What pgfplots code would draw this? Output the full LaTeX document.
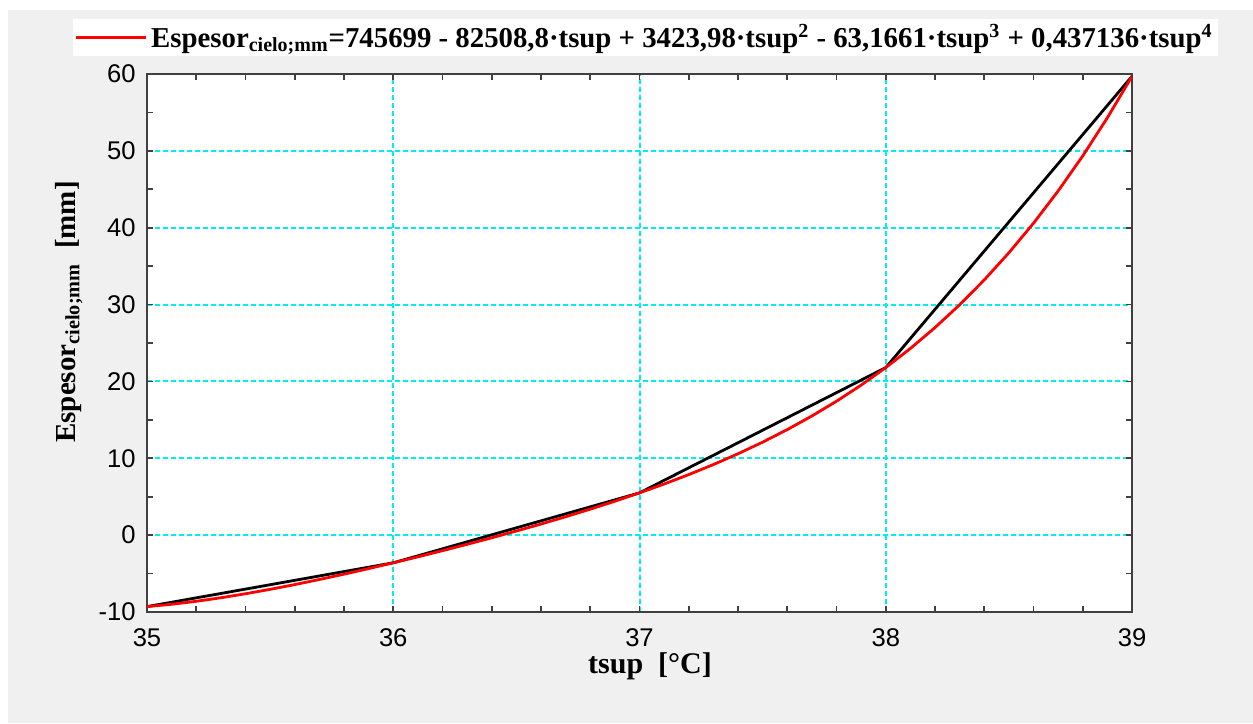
\documentclass[border=0pt]{standalone}
\usepackage{fontspec}
\setmainfont{Liberation Serif}
\setsansfont{Liberation Sans}
\usepackage{pgfplots}
\pgfplotsset{compat=1.18}
\definecolor{bggray}{HTML}{F0F0F0}
\definecolor{axgray}{HTML}{404040}
\definecolor{gridcyan}{HTML}{00EEEE}
\begin{document}
\begin{tikzpicture}
\useasboundingbox (-73.5pt,-55.5pt) rectangle (553pt,306pt);
\fill[bggray] (-69.5pt,-55.5pt) rectangle (553pt,301pt);
\begin{axis}[at={(0,0)},anchor=south west,scale only axis,width=492.5pt,height=269pt,
  xmin=35,xmax=39,ymin=-10,ymax=60,
  xtick={35,36,37,38,39},xticklabels={35,36,37,38,39},minor x tick num=4,
  ytick={-10,0,10,20,30,40,50,60},yticklabels={-10,0,10,20,30,40,50,60},minor y tick num=1,
  tick align=inside,major tick length=3pt,minor tick length=3pt,
  xmajorgrids,ymajorgrids,
  grid style={draw=gridcyan,line width=1pt,dash pattern=on 2.5pt off 1.5pt},
  major grid style={draw=gridcyan,line width=1pt,dash pattern=on 2.5pt off 1.5pt},
  axis line style={axgray,line width=1pt},tick style={axgray,line width=0.8pt},
  tick label style={font=\sffamily\fontsize{12.8}{14}\selectfont},
  xticklabel style={anchor=base,yshift=-17pt},
  yticklabel style={anchor=east,inner sep=0pt,xshift=-5.5pt},
  axis background/.style={fill=white},
  legend style={at={(axis description cs:-0.0751,1.0335)},anchor=south west,draw=none,fill=white,
    inner sep=0.5pt,font=\bfseries\fontsize{14.4}{16}\selectfont},
  legend cell align=left,
  legend image code/.code={\draw[#1] (0pt,0pt) -- (35pt,0pt);}]
\addplot[black,line width=1.4pt,forget plot] coordinates {(35,-9.3) (36,-3.6) (37,5.5) (38,21.8) (39,59.7)};
\addplot[red,line width=1.4pt] coordinates {
(35.0,-9.300) (35.1,-8.994) (35.2,-8.606) (35.3,-8.147) (35.4,-7.626) (35.5,-7.052)
(35.6,-6.431) (35.7,-5.771) (35.8,-5.077) (35.9,-4.352) (36.0,-3.600) (36.1,-2.823)
(36.2,-2.021) (36.3,-1.195) (36.4,-0.343) (36.5,0.536) (36.6,1.446) (36.7,2.392)
(36.8,3.378) (36.9,4.412) (37.0,5.500) (37.1,6.651) (37.2,7.876) (37.3,9.184)
(37.4,10.587) (37.5,12.098) (37.6,13.732) (37.7,15.502) (37.8,17.425) (37.9,19.519)
(38.0,21.800) (38.1,24.289) (38.2,27.005) (38.3,29.970) (38.4,33.205) (38.5,36.736)
(38.6,40.585) (38.7,44.779) (38.8,49.345) (38.9,54.309) (39.0,59.700)};
\addlegendentry{Espesor\textsubscript{cielo;mm}=745699 - 82508,8·tsup + 3423,98·tsup\textsuperscript{2} - 63,1661·tsup\textsuperscript{3} + 0,437136·tsup\textsuperscript{4}}
\end{axis}
\node[font=\bfseries\fontsize{15}{17}\selectfont,anchor=base] at (251.5pt,-30.5pt) {tsup\ \ [°C]};
\node[font=\bfseries\fontsize{14.5}{17}\selectfont,anchor=base,rotate=90] at (-36pt,150pt) {Espesor\textsubscript{cielo;mm}\ \ [mm]};
\end{tikzpicture}
\end{document}
